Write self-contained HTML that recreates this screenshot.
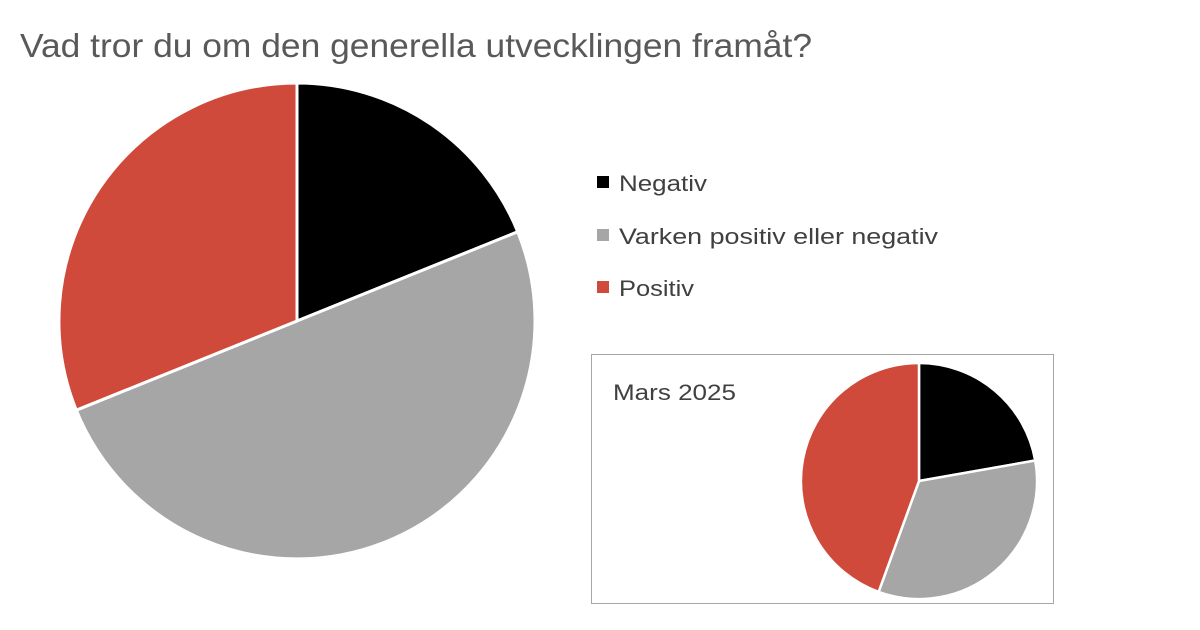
<!DOCTYPE html>
<html><head><meta charset="utf-8"><style>
body{margin:0;background:#fff;}
svg{display:block;font-family:"Liberation Sans",sans-serif;}
</style></head><body>
<svg width="1200" height="630" viewBox="0 0 1200 630" xmlns="http://www.w3.org/2000/svg">
<rect width="1200" height="630" fill="#fff"/>
<text x="20" y="57" font-size="33" fill="#595959" textLength="792" lengthAdjust="spacingAndGlyphs">Vad tror du om den generella utvecklingen framåt?</text>
<g stroke="#fff" stroke-width="3" stroke-linejoin="round">
<path d="M297,321 L297,83 A238,238 0 0 1 517.7,231.8 Z" fill="#000"/>
<path d="M297,321 L517.7,231.8 A238,238 0 0 1 76.3,410.2 Z" fill="#a6a6a6"/>
<path d="M297,321 L76.3,410.2 A238,238 0 0 1 297,83 Z" fill="#cf4a3a"/>
</g>
<rect x="597" y="176" width="12" height="12" fill="#000"/>
<text x="619" y="191" font-size="22" fill="#404040" textLength="88" lengthAdjust="spacingAndGlyphs">Negativ</text>
<rect x="597" y="229" width="12" height="12" fill="#a6a6a6"/>
<text x="619" y="244" font-size="22" fill="#404040" textLength="319" lengthAdjust="spacingAndGlyphs">Varken positiv eller negativ</text>
<rect x="597" y="281" width="12" height="12" fill="#cf4a3a"/>
<text x="619" y="296" font-size="22" fill="#404040" textLength="75" lengthAdjust="spacingAndGlyphs">Positiv</text>
<rect x="591.5" y="354.5" width="462" height="249" fill="none" stroke="#a6a6a6" stroke-width="1"/>
<text x="613" y="400" font-size="22" fill="#404040" textLength="123" lengthAdjust="spacingAndGlyphs">Mars 2025</text>
<g stroke="#fff" stroke-width="2.5" stroke-linejoin="round">
<path d="M919,481 L919,363 A118,118 0 0 1 1035.2,460.5 Z" fill="#000"/>
<path d="M919,481 L1035.2,460.5 A118,118 0 0 1 878.6,591.9 Z" fill="#a6a6a6"/>
<path d="M919,481 L878.6,591.9 A118,118 0 0 1 919,363 Z" fill="#cf4a3a"/>
</g>
</svg>
</body></html>
